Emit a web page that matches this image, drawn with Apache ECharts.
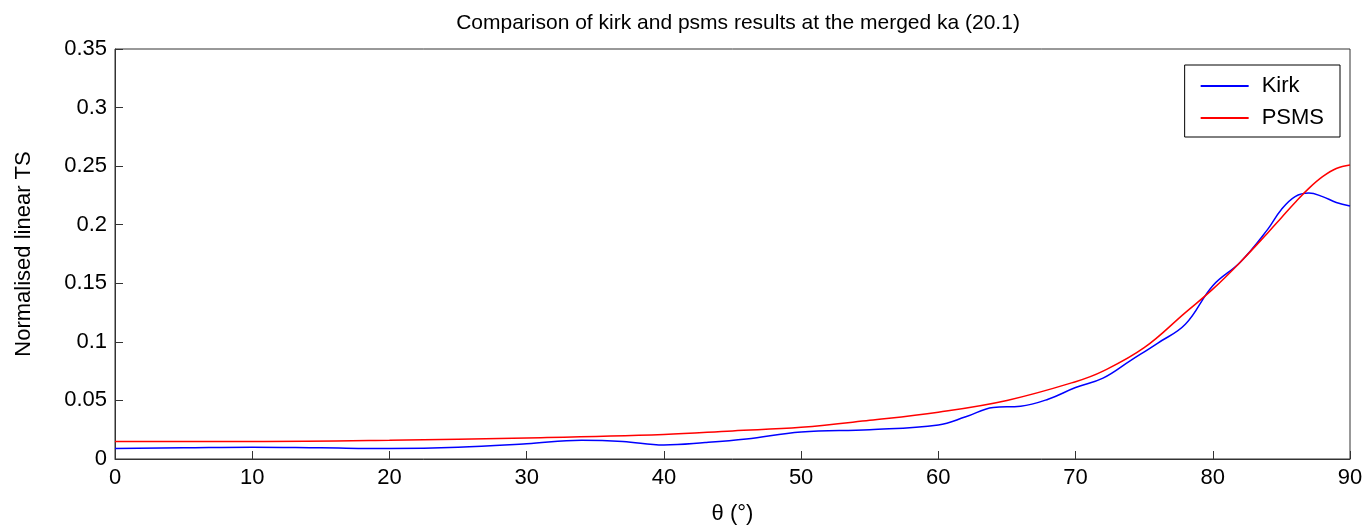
<!DOCTYPE html>
<html>
<head>
<meta charset="utf-8">
<script src="https://cdn.jsdelivr.net/npm/echarts@6/dist/echarts.min.js"></script>
<style>html,body{margin:0;background:#fff}#main{width:1370px;height:532px}</style>
</head>
<body>
<div id="main"></div>
<script>
// angles (deg) and normalised linear TS
var kirkTheta = [0, 5, 10, 15, 20, 25, 30, 34, 37, 40, 43, 46, 50, 55, 60, 62, 64, 66, 68, 70, 72, 74, 76, 78, 80, 82, 84, 85, 86, 87, 88, 89, 90];
var kirkTS = [0.009, 0.0095, 0.010, 0.0095, 0.009, 0.010, 0.013, 0.016, 0.015, 0.012, 0.014, 0.017, 0.023, 0.025, 0.029, 0.036, 0.044, 0.045, 0.051, 0.061, 0.069, 0.084, 0.099, 0.115, 0.148, 0.168, 0.196, 0.213, 0.224, 0.227, 0.224, 0.219, 0.216];
var psmsTheta = [0, 10, 20, 30, 40, 45, 50, 55, 60, 65, 70, 72, 75, 78, 80, 82, 84, 85, 86, 87, 88, 89, 90];
var psmsTS = [0.015, 0.015, 0.016, 0.018, 0.021, 0.024, 0.027, 0.033, 0.040, 0.050, 0.066, 0.075, 0.095, 0.125, 0.145, 0.168, 0.193, 0.206, 0.219, 0.231, 0.241, 0.248, 0.251];

function pairs(xs, ys) {
	var out = [];
	for (var i = 0; i < xs.length; i++) {
		out.push([xs[i], ys[i]]);
	}
	return out;
}

var myChart = echarts.init(document.getElementById('main'));
var axisText = { color: '#000', fontSize: 22, fontFamily: 'Liberation Sans' };

var option = {
	animation: false,
	title: {
		text: 'Comparison of kirk and psms results at the merged ka (20.1)',
		left: 733, top: 8, textAlign: 'center',
		textStyle: { fontSize: 21, fontWeight: 'normal', color: '#000', fontFamily: 'Liberation Sans' }
	},
	grid: { left: 115, right: 20, top: 49, bottom: 73, show: true, borderColor: '#333', borderWidth: 1 },
	legend: {
		right: 30, top: 65, orient: 'vertical',
		backgroundColor: '#fff', borderColor: '#000', borderWidth: 1,
		padding: [10, 16, 8, 16], itemGap: 10,
		itemWidth: 48, itemHeight: 2,
		icon: 'rect',
		textStyle: { fontSize: 22, color: '#000', fontFamily: 'Liberation Sans', padding: [0, 0, 0, 8] },
		data: ['Kirk', 'PSMS']
	},
	xAxis: {
		type: 'value', min: 0, max: 90, interval: 10,
		name: 'θ (°)', nameLocation: 'middle', nameGap: 44,
		nameTextStyle: axisText,
		axisLine: { lineStyle: { color: '#333' } },
		axisTick: { inside: true, length: 8, lineStyle: { color: '#333' } },
		axisLabel: axisText,
		splitLine: { show: false }
	},
	yAxis: {
		type: 'value', min: 0, max: 0.35, interval: 0.05,
		name: 'Normalised linear TS', nameLocation: 'middle', nameGap: 80,
		nameTextStyle: axisText,
		axisLine: { show: true, lineStyle: { color: '#333' } },
		axisTick: { show: true, inside: true, length: 8, lineStyle: { color: '#333' } },
		axisLabel: axisText,
		splitLine: { show: false }
	},
	series: [{
		name: 'Kirk', type: 'line', smooth: 0.4, showSymbol: false,
		lineStyle: { color: '#0000ff', width: 1.5 }, itemStyle: { color: '#0000ff' },
		data: pairs(kirkTheta, kirkTS)
	}, {
		name: 'PSMS', type: 'line', smooth: 0.4, showSymbol: false,
		lineStyle: { color: '#ff0000', width: 1.5 }, itemStyle: { color: '#ff0000' },
		data: pairs(psmsTheta, psmsTS)
	}]
};

myChart.setOption(option);
</script>
</body>
</html>
